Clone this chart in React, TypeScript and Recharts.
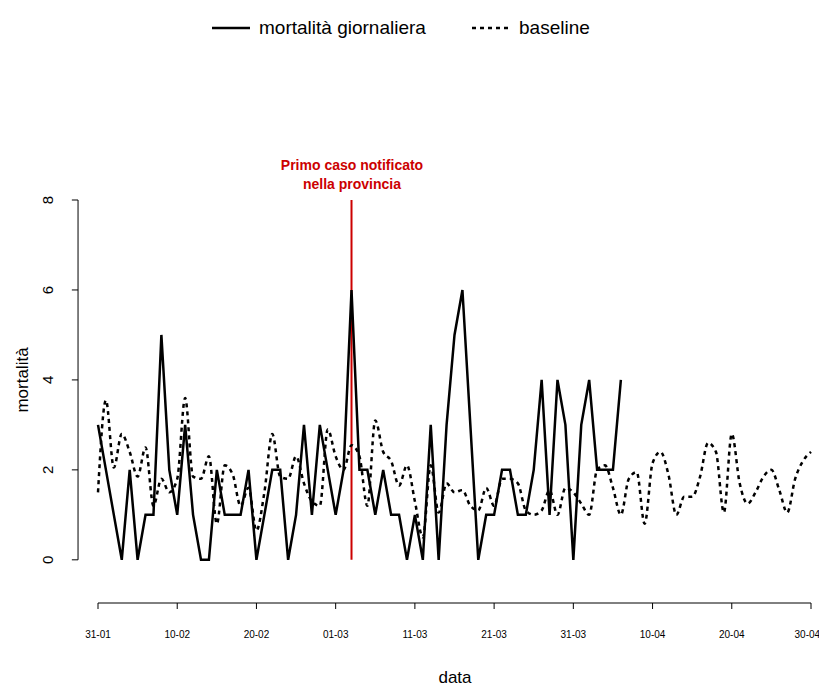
import { LineChart, Line, XAxis, YAxis, ReferenceLine } from "recharts";

const solidA = [3, 2, 1, 0, 2, 0, 1, 1, 5, 2, 1, 3, 1, 0, 0, 2, 1, 1, 1, 2, 0, 1, 2, 2, 0, 1, 3, 1, 3, 2, 1, 2, 6];
const solidB = [2, 2, 1, 2, 1, 1, 0, 1, 0, 3, 0, 3, 5, 6, 3, 0, 1, 1, 2, 2, 1, 1, 2, 4, 1, 4, 3, 0, 3, 4, 2, 2, 2, 4];
const baseline = [
  1.5, 3.55, 2.05, 2.8, 2.4, 1.85, 2.5, 1.2, 1.8, 1.5,
  1.8, 3.6, 1.85, 1.8, 2.3, 0.8, 2.1, 1.9, 1.2, 1.6,
  0.65, 1.5, 2.8, 1.85, 1.8, 2.3, 1.7, 1.3, 1.2, 2.9,
  2.3, 2.0, 2.55, 2.3, 1.2, 3.1, 2.4, 2.2, 1.65, 2.1,
  1.3, 0.5, 2.1, 1.05, 1.7, 1.5, 1.55, 1.2, 1.1, 1.6,
  1.2, 1.8, 1.8, 1.7, 1.1, 1.0, 1.1, 1.55, 1.0, 1.6,
  1.5, 1.25, 1.0, 2.0, 2.1, 1.6, 1.0, 1.8, 1.95, 0.8,
  2.15, 2.4, 1.9, 1.0, 1.4, 1.4, 1.85, 2.6, 2.4, 1.05,
  2.8, 1.7, 1.25, 1.5, 1.85, 2.0, 1.55, 1.05, 1.8, 2.2, 2.4,
];
const xTicks = [0, 10, 20, 30, 40, 50, 60, 70, 80, 90];
const xLabels = ["31-01", "10-02", "20-02", "01-03", "11-03", "21-03", "31-03", "10-04", "20-04", "30-04"];
const yTicks = [0, 2, 4, 6, 8];
const firstCaseDay = 32;

const solid = [...solidA, ...solidB];
const data = baseline.map((b, i) => ({ day: i, solid: i < solid.length ? solid[i] : undefined, base: b }));

const font = "'Liberation Sans', Arial, sans-serif";

const YTick = ({ y, payload }: any) => {
  const tx = 45;
  return (
    <text x={tx} y={y} transform={`rotate(-90 ${tx} ${y})`} textAnchor="middle" fontSize={15} fill="#000" fontFamily={font}>
      {payload.value}
    </text>
  );
};

export default function App() {
  return (
    <div style={{ position: "relative", width: 811, height: 680, fontFamily: font }}>
      <svg width={811} height={30} style={{ position: "absolute", left: 0, top: 4 }}>
        <line x1={204} y1={16} x2={242} y2={16} stroke="#000" strokeWidth={2.5} />
        <line x1={464} y1={16} x2={502} y2={16} stroke="#000" strokeWidth={2.5} strokeDasharray="4 4" />
        <text x={251} y={22} fontSize={19} fontFamily={font}>mortalità giornaliera</text>
        <text x={511} y={22} fontSize={19} fontFamily={font}>baseline</text>
      </svg>
      <div style={{ position: "absolute", left: 250, top: 148, width: 188, textAlign: "center", color: "#cc0000", fontWeight: "bold", fontSize: 14, lineHeight: "19px" }}>
        Primo caso notificato
        <br />
        nella provincia
      </div>
      <LineChart width={811} height={680} data={data} margin={{ top: 192, right: 8, bottom: 55, left: 50 }}>
        <XAxis
          dataKey="day"
          type="number"
          domain={[0, 90]}
          ticks={xTicks}
          tickFormatter={(v: number) => xLabels[xTicks.indexOf(v)]}
          tick={{ fontSize: 10, fill: "#000", fontFamily: font }}
          stroke="#000"
          tickSize={6}
          tickMargin={22}
        />
        <YAxis
          type="number"
          domain={[-0.96, 8]}
          ticks={yTicks}
          width={40}
          axisLine={false}
          tickLine={false}
          tick={<YTick />}
          allowDataOverflow
        />
        <ReferenceLine segment={[{ x: -2.52, y: 0 }, { x: -2.52, y: 8 }]} stroke="#000" ifOverflow="visible" />
        {yTicks.map((t) => (
          <ReferenceLine key={t} segment={[{ x: -3.3, y: t }, { x: -2.52, y: t }]} stroke="#000" ifOverflow="visible" />
        ))}
        <text x={20} y={372} transform="rotate(-90 20 372)" textAnchor="middle" fontSize={17} fontFamily={font}>mortalità</text>
        <text x={447} y={675} textAnchor="middle" fontSize={17} fontFamily={font}>data</text>
        <ReferenceLine segment={[{ x: firstCaseDay, y: 0 }, { x: firstCaseDay, y: 8 }]} stroke="#cc0000" strokeWidth={2} />
        <Line dataKey="base" type="monotone" stroke="#000" strokeWidth={2.5} strokeDasharray="4 4" dot={false} isAnimationActive={false} />
        <Line dataKey="solid" type="linear" stroke="#000" strokeWidth={2.5} dot={false} isAnimationActive={false} />
      </LineChart>
    </div>
  );
}
